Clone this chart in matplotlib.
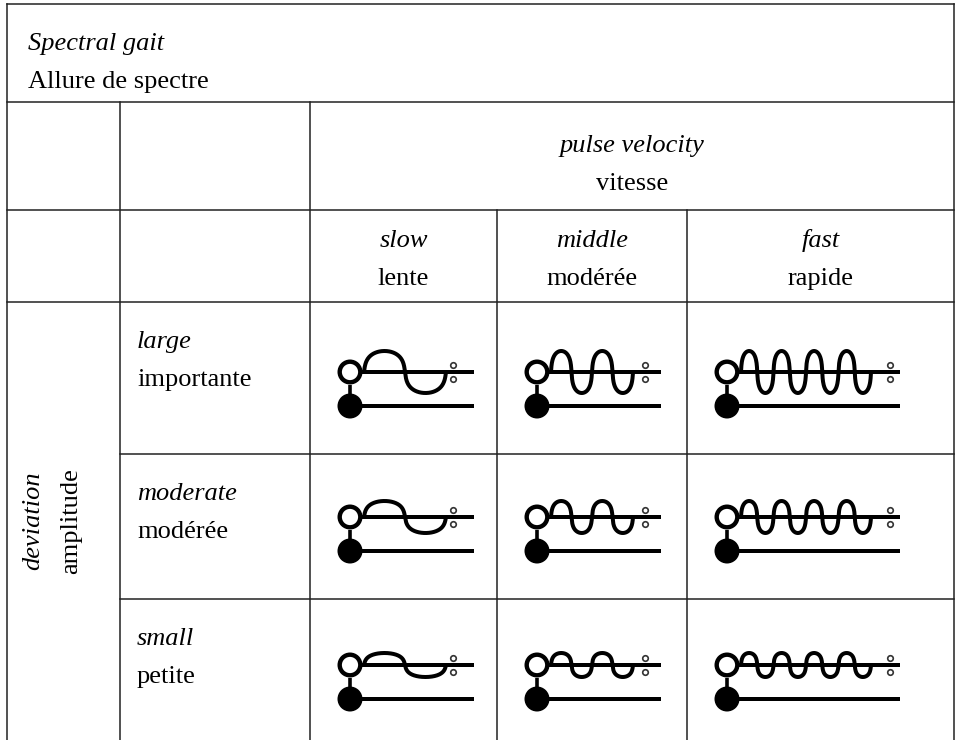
import numpy as np
import matplotlib
matplotlib.use("Agg")
import matplotlib.pyplot as plt
from matplotlib.patches import Circle

# --- table content ---
title_en = "Spectral gait"
title_fr = "Allure de spectre"
velocity_en, velocity_fr = "pulse velocity", "vitesse"
deviation_en, deviation_fr = "deviation", "amplitude"

speed_en = ["slow", "middle", "fast"]
speed_fr = ["lente", "modérée", "rapide"]
speed_cycles = [1, 2, 4]            # wave periods per symbol

size_en = ["large", "moderate", "small"]
size_fr = ["importante", "modérée", "petite"]
size_amp = [21, 16, 12]             # wave amplitude (px)

# --- layout (pixel coordinates) ---
W, H = 957, 740
X0, X1 = 7, 954
XC = [120, 310, 497, 687, X1]       # column borders
Y_ROWS = [4, 102, 210, 302, 454, 599, H]
LINE_LEN = [124, 124, 173]
WAVE_LEN = [82, 82, 130]
DOT_OFF = [103, 108, 163]

FONT = "Liberation Serif"
FS = 19
GRID = dict(color="#222222", lw=1.1)
INK = 4 * 72 / 100                  # 4 px stroke

fig = plt.figure(figsize=(W / 100, H / 100), dpi=100)
ax = fig.add_axes([0, 0, 1, 1])
ax.set_xlim(0, W)
ax.set_ylim(H, 0)
ax.axis("off")

# grid lines
for y in Y_ROWS[:4]:
    ax.plot([X0, X1], [y, y], **GRID)
for y in Y_ROWS[4:6]:
    ax.plot([XC[0], X1], [y, y], **GRID)
ax.plot([X0, X0], [Y_ROWS[0], H], **GRID)
ax.plot([X1, X1], [Y_ROWS[0], H], **GRID)
for x in XC[:2]:
    ax.plot([x, x], [Y_ROWS[1], H], **GRID)
for x in XC[2:4]:
    ax.plot([x, x], [Y_ROWS[2], H], **GRID)


def two_lines(x, y, en, fr, ha="left"):
    ax.text(x, y, en, fontsize=FS, family=FONT, style="italic", ha=ha, va="baseline")
    ax.text(x, y + 38, fr, fontsize=FS, family=FONT, ha=ha, va="baseline")


two_lines(28, 50, title_en, title_fr)
two_lines((XC[1] + X1) / 2, 152, velocity_en, velocity_fr, ha="center")
for j in range(3):
    two_lines((XC[j + 1] + XC[j + 2]) / 2, 247, speed_en[j], speed_fr[j], ha="center")
for i in range(3):
    two_lines(137, Y_ROWS[i + 3] + 46, size_en[i], size_fr[i])

ymid = (Y_ROWS[3] + H) / 2
ax.text(33, ymid, deviation_en, fontsize=FS, family=FONT, style="italic",
        rotation=90, ha="center", va="center")
ax.text(71, ymid, deviation_fr, fontsize=FS, family=FONT,
        rotation=90, ha="center", va="center")


def symbol(cx, top, n, amp, line_len, wave_len, dot_off):
    yu, yl = top, top + 34
    r = 12.5
    # stem between the two circles
    ax.plot([cx, cx], [yu + r, yl - r], color="black", lw=2.6, solid_capstyle="butt")
    ax.plot([cx + r - 1, cx + line_len], [yu, yu], color="black", lw=INK, solid_capstyle="butt")
    ax.plot([cx + r - 1, cx + line_len], [yl, yl], color="black", lw=INK, solid_capstyle="butt")
    ax.add_patch(Circle((cx, yu), r - 2.2, facecolor="white", edgecolor="black", lw=INK * 1.1, zorder=3))
    ax.add_patch(Circle((cx, yl), r, facecolor="black", edgecolor="none", zorder=3))
    # wave
    th = np.linspace(0, 2 * np.pi * n, 400)
    k = wave_len / (2 * np.pi * n)
    xs = cx + 14 + k * th - 0.4 * k * np.sin(2 * th)
    ys = yu - amp * np.sin(th)
    ax.plot(xs, ys, color="black", lw=INK, solid_capstyle="round", zorder=2)
    # little terminals
    for dy in (-7, 7):
        ax.plot(cx + dot_off, yu + dy, marker="o", ms=4, mfc="white",
                mec="#333333", mew=1.2, zorder=4)


row_top = [372, 517, 665]
for i in range(3):
    for j in range(3):
        symbol(XC[j + 1] + 40, row_top[i], speed_cycles[j], size_amp[i],
               LINE_LEN[j], WAVE_LEN[j], DOT_OFF[j])

fig.savefig("out.png", dpi=100)
